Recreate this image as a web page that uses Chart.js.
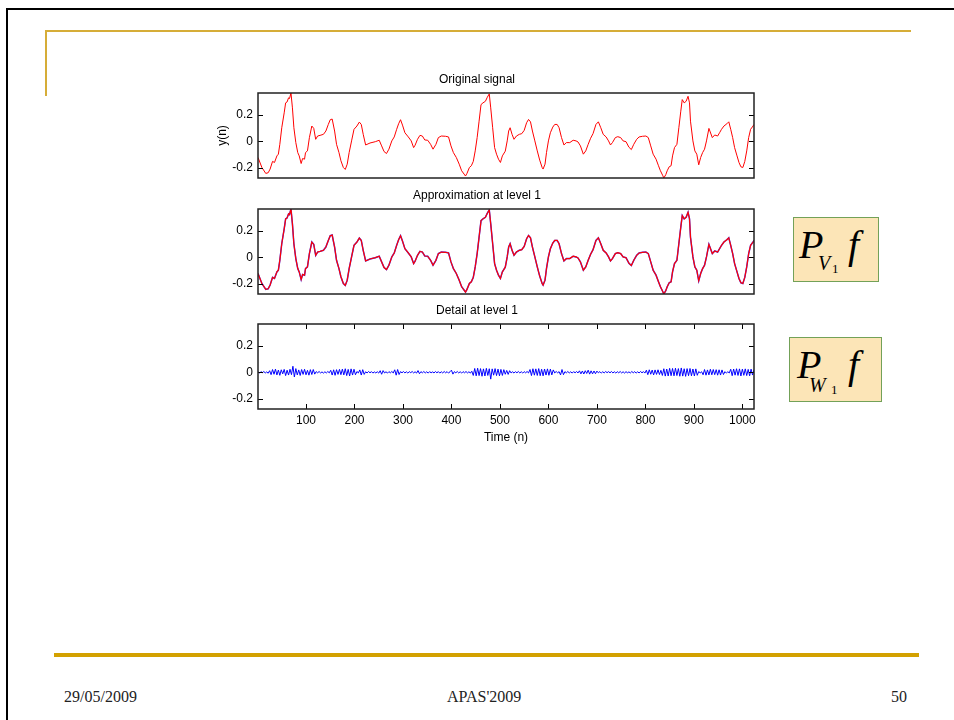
<!DOCTYPE html>
<html><head><meta charset="utf-8">
<script src="https://cdn.jsdelivr.net/npm/chart.js@4/dist/chart.umd.min.js"></script>
<style>
html,body{margin:0;padding:0;background:#fff;}
body{width:954px;height:720px;position:relative;overflow:hidden;font-family:"Liberation Sans",Arial,sans-serif;}
.abs{position:absolute;}
.cv{position:absolute;left:200px;}
.box{position:absolute;box-sizing:border-box;background:#FCE5B7;border:1.5px solid #73A158;}
.ser{position:absolute;font-family:"Liberation Serif","Times New Roman",serif;white-space:nowrap;color:#000;}
.it{font-style:italic;}
.foot{position:absolute;top:689px;font-family:"Liberation Serif","Times New Roman",serif;font-size:16px;line-height:16px;color:#222;white-space:nowrap;}
</style></head><body>
<!-- slide frame -->
<div class="abs" style="left:6px;top:8px;width:948px;height:2px;background:#000"></div>
<div class="abs" style="left:6px;top:8px;width:2px;height:712px;background:#000"></div>
<!-- gold decorations -->
<div class="abs" style="left:45px;top:30px;width:866px;height:2px;background:#D6AD38"></div>
<div class="abs" style="left:45px;top:30px;width:2px;height:66px;background:#D6AD38"></div>
<div class="abs" style="left:54px;top:653px;width:865px;height:4px;background:#D3A100"></div>

<canvas id="c1" class="cv" width="570" height="115" style="top:70px"></canvas>
<canvas id="c2" class="cv" width="570" height="115" style="top:186px"></canvas>
<canvas id="c3" class="cv" width="570" height="153" style="top:301px"></canvas>

<div class="box" style="left:793px;top:217px;width:86px;height:65px"></div>
<span class="ser it" style="left:799px;top:225px;font-size:40px;line-height:40px">P</span>
<span class="ser it" style="left:818px;top:253px;font-size:20px;line-height:20px">V</span>
<span class="ser" style="left:832px;top:262px;font-size:13px;line-height:13px">1</span>
<span class="ser it" style="left:848px;top:225px;font-size:40px;line-height:40px">f</span>

<div class="box" style="left:789px;top:337px;width:93px;height:65px"></div>
<span class="ser it" style="left:797px;top:345px;font-size:40px;line-height:40px">P</span>
<span class="ser it" style="left:809px;top:375px;font-size:20px;line-height:20px">W</span>
<span class="ser" style="left:831px;top:383px;font-size:13px;line-height:13px">1</span>
<span class="ser it" style="left:848px;top:345px;font-size:40px;line-height:40px">f</span>

<div class="foot" style="left:64px">29/05/2009</div>
<div class="foot" style="left:447px">APAS'2009</div>
<div class="foot" style="left:891px">50</div>

<script>
// ---- data ----
const origN = [1,9,17,22,26,31,35,40,43,46,50,55,58,61,64,66,69,72,75,79,83,86,90,93,97,99,103,107,112,116,120,124,129,136,141,146,150,154,159,163,168,172,177,181,185,189,194,199,205,210,214,218,223,232,243,251,
256,261,266,271,277,282,287,291,295,299,304,311,317,322,325,330,335,340,345,351,357,362,368,373,379,388,394,399,404,410,416,421,426,429,432,437,441,445,449,453,457,461,465,470,474,478,481,485,489,493,497,501,505,
511,515,518,521,525,529,534,540,545,550,555,559,563,567,572,577,582,587,589,593,596,600,604,609,613,618,622,627,632,637,644,651,657,661,666,672,677,682,687,692,698,703,708,713,719,724,728,732,738,743,749,754,760,
766,771,776,782,787,794,801,806,811,816,822,827,831,836,838,842,845,849,853,856,860,865,869,873,876,880,884,888,891,893,898,902,906,910,914,918,922,926,931,933,938,943,949,953,957,962,968,972,976,980,984,989,993,997,1001,1005,1009,1013,1017,1022,1024];
const origY = [-0.123,-0.199,-0.244,-0.239,-0.211,-0.153,-0.161,-0.111,-0.098,-0.023,0.103,0.216,0.292,0.299,0.330,0.325,0.367,0.254,0.103,-0.010,-0.086,-0.111,-0.169,-0.131,-0.136,-0.086,-0.073,0.028,0.116,0.098,0.015,0.040,0.045,0.053,0.078,0.128,0.164,0.169,0.078,-0.023,-0.086,-0.148,-0.199,-0.214,-0.174,-0.086,0.003,0.091,0.116,0.146,0.128,0.053,-0.028,-0.013,-0.003,0.008,
-0.035,-0.078,-0.093,-0.060,0.003,0.033,0.091,0.133,0.164,0.123,0.065,0.033,0.003,-0.048,-0.030,0.015,0.045,0.040,0.010,0.008,-0.023,-0.060,-0.023,0.028,0.040,0.038,0.033,-0.035,-0.086,-0.123,-0.174,-0.224,-0.249,-0.264,-0.244,-0.199,-0.186,-0.153,-0.073,0.028,0.153,0.279,0.292,0.304,0.335,0.360,0.254,0.103,-0.048,-0.098,-0.136,-0.161,-0.111,
-0.075,0.003,0.078,0.103,0.053,0.015,0.040,0.053,0.058,0.083,0.141,0.166,0.148,0.078,0.003,-0.073,-0.143,-0.199,-0.211,-0.174,-0.086,0.003,0.065,0.108,0.128,0.128,0.103,0.028,-0.028,-0.010,-0.010,0.008,0.003,-0.005,-0.035,-0.098,-0.073,-0.023,0.023,0.058,0.128,0.148,0.103,0.053,0.033,0.003,-0.028,-0.010,0.028,0.035,0.028,0.003,-0.003,
-0.045,-0.063,-0.023,0.015,0.033,0.038,0.040,0.028,-0.035,-0.098,-0.136,-0.186,-0.224,-0.262,-0.279,-0.254,-0.224,-0.194,-0.186,-0.111,-0.048,-0.023,0.103,0.229,0.317,0.292,0.304,0.342,0.292,0.153,0.003,-0.073,-0.098,-0.179,-0.123,-0.086,-0.060,0.003,0.098,0.078,0.028,0.048,0.040,0.065,0.091,0.116,0.133,0.148,0.091,0.028,-0.048,-0.111,-0.161,-0.194,-0.199,-0.153,-0.073,0.028,0.091,0.116,0.128];

const detailStart = 1, detailStep = 3;
const detailY = [
0.004,-0.006,0.005,-0.003,0.006,-0.005,0.003,-0.007,
0.012,-0.018,0.021,-0.015,0.024,-0.020,0.017,-0.023,0.019,-0.012,0.022,-0.025,0.016,-0.021,0.023,-0.018,
0.046,-0.036,0.028,
-0.020,0.018,-0.024,0.021,-0.016,0.023,-0.019,0.015,-0.022,0.020,-0.017,0.021,-0.014,
0.005,-0.004,0.006,-0.005,0.003,-0.006,0.004,-0.005,0.006,-0.004,
0.015,-0.021,0.019,-0.023,0.020,-0.016,0.022,-0.018,
0.024,-0.020,0.027,-0.025,0.022,-0.028,0.026,-0.021,0.023,-0.019,
0.006,-0.005,
0.018,-0.021,0.020,-0.016,
0.004,-0.005,0.006,-0.004,0.005,-0.006,0.003,-0.005,0.004,-0.006,0.012,-0.015,0.013,-0.005,0.004,-0.006,0.005,-0.004,0.006,-0.005,
0.019,-0.022,0.021,-0.017,
0.005,-0.004,0.006,-0.005,0.004,-0.006,0.005,-0.003,0.006,-0.005,0.004,-0.006,0.013,-0.011,0.005,-0.004,0.006,-0.005,0.004,-0.006,0.005,-0.004,0.003,-0.005,0.006,-0.004,0.005,-0.006,0.004,-0.005,0.006,-0.004,0.005,-0.006,0.004,
0.016,-0.014,
0.005,-0.004,0.006,-0.005,0.004,-0.006,0.005,-0.004,0.006,-0.005,0.004,-0.006,0.008,
-0.024,0.029,-0.027,0.031,-0.025,0.028,-0.030,0.026,-0.028,0.030,-0.024,0.027,
-0.052,
0.026,-0.022,0.028,-0.025,0.024,-0.027,0.022,-0.024,0.020,
-0.015,0.014,-0.016,0.012,
-0.005,0.004,-0.006,0.005,-0.004,0.006,-0.005,0.004,-0.006,0.005,-0.004,0.006,-0.005,
0.021,-0.025,0.027,-0.022,0.026,-0.024,0.028,-0.026,0.023,-0.027,0.025,-0.021,0.026,-0.023,0.024,-0.020,0.018,
-0.005,0.006,-0.004,0.005,
-0.020,0.021,-0.018,
0.005,-0.004,0.006,-0.005,0.004,-0.006,0.005,-0.004,0.006,-0.005,
0.011,-0.012,0.010,-0.013,0.012,-0.009,0.016,-0.014,0.011,-0.012,0.010,-0.011,0.009,
-0.004,0.005,-0.006,0.004,-0.005,0.006,-0.003,0.005,-0.004,0.006,-0.005,0.004,-0.006,0.005,-0.004,0.006,-0.005,0.004,-0.006,0.005,-0.004,0.003,-0.005,0.006,-0.004,0.005,-0.006,0.004,-0.005,0.006,-0.004,0.005,-0.006,
0.016,-0.018,0.019,-0.015,0.017,-0.020,0.018,-0.016,0.019,-0.017,0.015,
-0.024,0.027,-0.029,0.025,-0.028,0.030,-0.026,0.029,-0.027,0.031,-0.025,0.028,-0.030,0.033,-0.029,0.027,-0.031,0.028,-0.026,0.029,-0.027,0.025,-0.028,0.026,-0.023,
0.006,-0.005,0.004,
-0.019,0.021,-0.022,0.018,-0.020,0.023,-0.019,0.021,-0.018,0.020,-0.022,0.019,-0.021,0.018,-0.017,
0.005,-0.006,0.004,-0.005,
0.023,-0.026,0.025,-0.022,0.027,-0.024,0.026,-0.028,0.024,-0.023,0.026,-0.025,0.022,-0.027,0.024,-0.021,0.020];

const yTicks = [-0.2, 0, 0.2];
const yTickLabels = ['-0.2', '0', '0.2'];
const xTicks = [100,200,300,400,500,600,700,800,900,1000];
const xTickLabels = ['100','200','300','400','500','600','700','800','900','1000'];
const titles = ['Original signal', 'Approximation at level 1', 'Detail at level 1'];
const yTitle = 'y(n)';
const xTitle = 'Time (n)';
const xMin = 1, xMax = 1024, yMin = -0.279, yMax = 0.367;

// ---- build ----
const FONT = '"Liberation Sans", Arial, Helvetica, sans-serif';
const origPts = origN.map((n, i) => ({x: n, y: origY[i]}));
const detailPts = detailY.map((v, i) => ({x: detailStart + i * detailStep, y: v}));

const framePlugin = {
  id: 'frame',
  afterDatasetsDraw(chart, args, opts) {
    const {ctx, chartArea: a, scales: {x, y}} = chart;
    ctx.save();
    ctx.strokeStyle = '#000';
    ctx.lineWidth = 1;
    ctx.beginPath();
    yTicks.forEach(t => {
      const py = Math.round(y.getPixelForValue(t)) + 0.5;
      ctx.moveTo(a.left, py); ctx.lineTo(a.left + 5, py);
      ctx.moveTo(a.right, py); ctx.lineTo(a.right - 5, py);
    });
    if (opts.xTicks) {
      xTicks.forEach(t => {
        const px = Math.round(x.getPixelForValue(t)) + 0.5;
        ctx.moveTo(px, a.top); ctx.lineTo(px, a.top + 5);
        ctx.moveTo(px, a.bottom); ctx.lineTo(px, a.bottom - 5);
      });
    }
    ctx.stroke();
    ctx.lineWidth = 1.5;
    ctx.strokeStyle = '#222';
    ctx.strokeRect(a.left, a.top, a.right - a.left, a.bottom - a.top);
    ctx.restore();
  }
};

function makePlot(id, idx, datasets, showX, showYTitle) {
  new Chart(document.getElementById(id), {
    type: 'line',
    data: {datasets},
    plugins: [framePlugin],
    options: {
      responsive: false,
      animation: false,
      devicePixelRatio: 1,
      layout: {autoPadding: false, padding: {left: 0, right: 16, top: 0, bottom: 0}},
      elements: {point: {radius: 0}, line: {tension: 0}},
      plugins: {
        legend: {display: false},
        tooltip: {enabled: false},
        title: {display: true, text: titles[idx], color: '#000',
          font: {family: FONT, size: 12, weight: 'normal'}, padding: {top: 2, bottom: 6.6}},
        frame: {xTicks: showX}
      },
      scales: {
        x: {
          type: 'linear', min: xMin, max: xMax, display: true,
          afterBuildTicks: s => { s.ticks = xTicks.map(v => ({value: v})); },
          afterFit: s => { s.height = showX ? 45 : 7; s.paddingLeft = 0; s.paddingRight = 0; },
          grid: {display: false, drawTicks: false},
          border: {display: false},
          ticks: {display: showX, padding: 4, color: '#000', font: {family: FONT, size: 12}, maxRotation: 0,
            callback: (v) => xTickLabels[xTicks.indexOf(v)]},
          title: {display: showX, text: xTitle, color: '#000', font: {family: FONT, size: 12}, padding: {top: 0, bottom: 8.8}}
        },
        y: {
          type: 'linear', min: yMin, max: yMax,
          afterBuildTicks: s => { s.ticks = yTicks.map(v => ({value: v})); },
          afterFit: s => { s.width = 58; s.paddingTop = 0; s.paddingBottom = 0; },
          grid: {display: false, drawTicks: false},
          border: {display: false},
          ticks: {padding: 5, color: '#000', font: {family: FONT, size: 12},
            callback: (v) => yTickLabels[yTicks.indexOf(v)]},
          title: {display: showYTitle, text: yTitle, color: '#000', font: {family: FONT, size: 12}, padding: {top: 15, bottom: 0}}
        }
      }
    }
  });
}

makePlot('c1', 0, [
  {data: origPts, borderColor: '#FF0000', borderWidth: 1}
], false, true);

makePlot('c2', 1, [
  {data: origPts, borderColor: '#FF0000', borderWidth: 1.2},
  {data: origPts, borderColor: '#3A3AFF', borderWidth: 1.5}
], false, false);

makePlot('c3', 2, [
  {data: detailPts, borderColor: '#0000FF', borderWidth: 1}
], true, false);
</script>
</body></html>
